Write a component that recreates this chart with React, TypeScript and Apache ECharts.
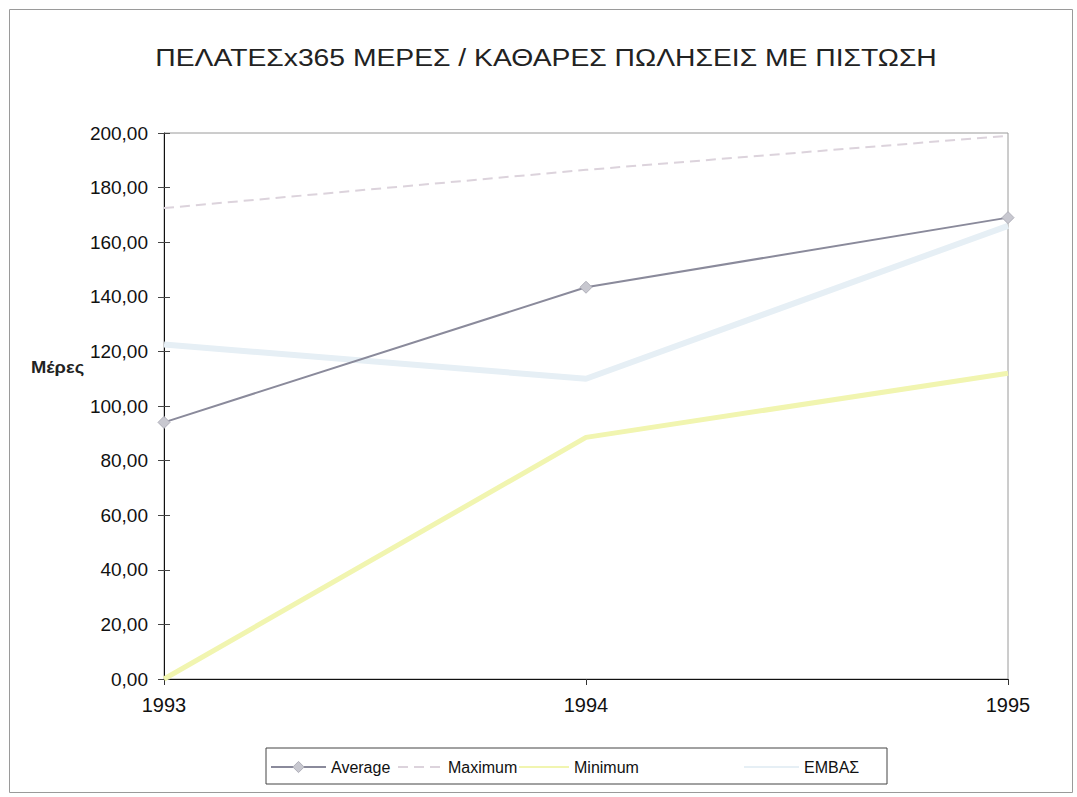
import React, { useEffect, useRef } from "react";
import * as echarts from "echarts";

const years = ["1993", "1994", "1995"];
const averageVals = [94.0, 143.5, 169.0];
const maximumVals = [172.5, 186.5, 199.0];
const minimumVals = [0.0, 88.5, 112.0];
const embasVals = [122.5, 110.0, 166.0];

const seriesNames = ["Average", "Maximum", "Minimum", "ΕΜΒΑΣ"];
const titleText = "ΠΕΛΑΤΕΣx365 ΜΕΡΕΣ / ΚΑΘΑΡΕΣ ΠΩΛΗΣΕΙΣ ΜΕ ΠΙΣΤΩΣΗ";
const yAxisTitle = "Μέρες";

const FONT = "'Liberation Sans', Arial, sans-serif";

export default function App() {
  const ref = useRef<HTMLDivElement>(null);
  useEffect(() => {
    if (!ref.current) return;
    const chart = echarts.init(ref.current, null, { renderer: "svg" });
    const fmt = (v: number) => v.toFixed(2).replace(".", ",");
    const legendDef = (name: string, left: number, w: number, symStyle: any) => ({
      data: [name],
      left,
      top: 759,
      padding: 0,
      itemWidth: w,
      itemHeight: 14,
      itemStyle: symStyle,
      textStyle: { fontFamily: FONT, fontSize: 16, color: "#111" },
      selectedMode: false,
    });
    chart.setOption({
      animation: false,
      backgroundColor: "#ffffff",
      textStyle: { fontFamily: FONT },
      grid: {
        left: 164,
        right: 69,
        top: 133,
        bottom: 118,
        show: true,
        borderColor: "#9a9a9a",
        borderWidth: 1,
        backgroundColor: "transparent",
      },
      legend: [
        legendDef(seriesNames[0], 270, 55, { color: "#c8c8d0", borderColor: "#b0b0ba", borderWidth: 1 }),
        legendDef(seriesNames[1], 397, 45, { opacity: 0 }),
        legendDef(seriesNames[2], 518, 50, { opacity: 0 }),
        legendDef(seriesNames[3], 743, 55, { opacity: 0 }),
      ],
      xAxis: {
        type: "category",
        data: years,
        boundaryGap: false,
        axisLine: { lineStyle: { color: "#111", width: 1 } },
        axisTick: { show: true, length: 6, lineStyle: { color: "#333" } },
        axisLabel: { fontFamily: FONT, fontSize: 20, color: "#111", margin: 16 },
        splitLine: { show: false },
      },
      yAxis: [
        {
          type: "value",
          min: 0,
          max: 200,
          interval: 20,
          axisLine: { show: true, lineStyle: { color: "#111", width: 1 } },
          axisTick: { show: true, length: 6, lineStyle: { color: "#444" } },
          axisLabel: {
            fontFamily: FONT,
            fontSize: 19,
            color: "#111",
            margin: 16,
            formatter: fmt,
          },
          splitLine: { show: false },
        },
        {
          type: "value",
          min: 0,
          max: 200,
          interval: 20,
          position: "left",
          axisLine: { show: false },
          axisTick: { show: true, inside: true, length: 6, lineStyle: { color: "#444" } },
          axisLabel: { show: false },
          splitLine: { show: false },
        },
      ],
      series: [
        {
          name: seriesNames[3],
          type: "line",
          data: embasVals,
          symbol: "none",
          lineStyle: { color: "#e6eff5", width: 6 },
          itemStyle: { color: "#e6eff5" },
          z: 1,
        },
        {
          name: seriesNames[2],
          type: "line",
          data: minimumVals,
          symbol: "none",
          lineStyle: { color: "#f1f5b0", width: 5 },
          itemStyle: { color: "#f1f5b0" },
          z: 2,
        },
        {
          name: seriesNames[1],
          type: "line",
          data: maximumVals,
          symbol: "none",
          lineStyle: { color: "#dcd3dc", width: 2, type: [10, 6] },
          itemStyle: { color: "#dcd3dc" },
          z: 3,
        },
        {
          name: seriesNames[0],
          type: "line",
          data: averageVals,
          symbol: "diamond",
          symbolSize: 12,
          showSymbol: true,
          lineStyle: { color: "#8a8a9b", width: 2 },
          itemStyle: { color: "#c8c8d0", borderColor: "#b0b0ba", borderWidth: 1 },
          z: 4,
        },
      ],
      graphic: [
        {
          type: "rect",
          left: 7,
          top: 7,
          shape: { width: 1063, height: 783 },
          style: { fill: "none", stroke: "#9a9a9a", lineWidth: 1 },
          silent: true,
          z: -10,
        },
        {
          type: "text",
          x: 546,
          y: 58,
          scaleX: 1.23,
          style: {
            text: titleText,
            fontFamily: FONT,
            fontSize: 23,
            fill: "#222",
            align: "center",
            verticalAlign: "middle",
          },
        },
        {
          type: "text",
          x: 31,
          y: 367,
          scaleX: 1.08,
          style: {
            text: yAxisTitle,
            fontFamily: FONT,
            fontSize: 17,
            fontWeight: "bold",
            fill: "#222",
            align: "left",
            verticalAlign: "middle",
          },
        },
        {
          type: "rect",
          shape: { x: 266, y: 748, width: 621, height: 36 },
          style: { fill: "none", stroke: "#444", lineWidth: 1 },
          silent: true,
        },
      ],
    });
    return () => chart.dispose();
  }, []);
  return (
    <div
      ref={ref}
      style={{ position: "fixed", left: 0, top: 0, width: 1077, height: 797 }}
    />
  );
}
